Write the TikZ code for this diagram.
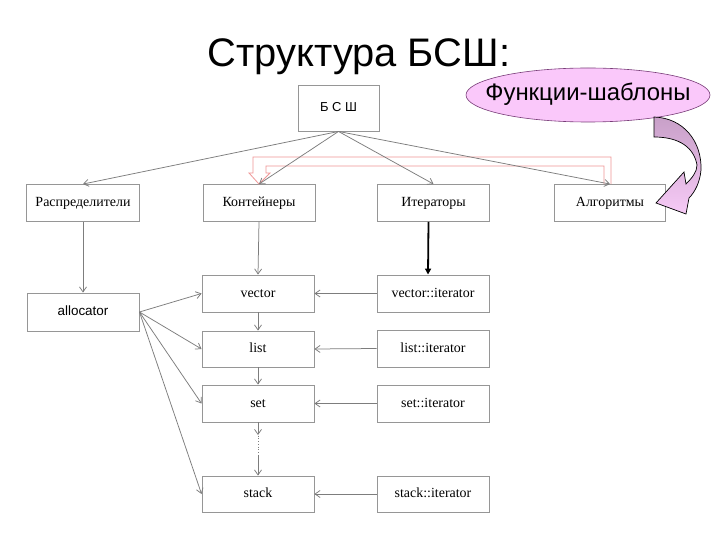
\documentclass[tikz,border=0pt]{standalone}
\usepackage{fontspec}
\setmainfont{Liberation Serif}
\setsansfont{Liberation Sans}
\usetikzlibrary{arrows.meta,shapes.geometric}
\definecolor{boxgray}{RGB}{150,150,150}
\definecolor{linegray}{RGB}{125,125,125}
\definecolor{redline}{RGB}{240,150,150}
\definecolor{ellfill}{RGB}{250,200,250}
\definecolor{elldraw}{RGB}{120,60,120}
\definecolor{mauve}{RGB}{200,160,200}
\definecolor{lpink}{RGB}{246,202,246}
\tikzset{
  x=1bp, y=-1bp,
  stlbox/.style={draw=boxgray, line width=0.9bp, fill=white, minimum width=112bp, minimum height=37bp, inner sep=0pt,
    text height=10bp, text depth=3bp, font=\fontsize{14}{16}\selectfont},
  sansbox/.style={stlbox, font=\sffamily\fontsize{13.5}{16}\selectfont},
  garr/.style={draw=linegray, line width=0.75bp, -{Straight Barb[length=5bp,width=7bp]}},
  gline/.style={draw=linegray, line width=0.75bp},
  barr/.style={draw=black, line width=1.8bp, -{Triangle[length=6bp,width=6bp]}},
}
\begin{document}
\begin{tikzpicture}
\useasboundingbox (0,0) rectangle (720,540);
\fill[white] (0,0) rectangle (720,540);

% title
\node[anchor=base, font=\sffamily\fontsize{40}{44}\selectfont, inner sep=0pt] (title) at (359,67) {Структура БСШ:};

% ellipse
\node[ellipse, draw=elldraw, line width=0.6bp, fill=ellfill, minimum width=244bp, minimum height=54bp,
  inner xsep=-18bp, inner ysep=0pt, text height=16bp, text depth=4bp,
  font=\sffamily\fontsize{24}{26}\selectfont] (fs) at (588,95) {Функции-шаблоны};

% boxes
\node[stlbox, font=\sffamily\fontsize{13}{15}\selectfont, text height=9.5bp, text depth=2.5bp, minimum width=81bp, minimum height=46bp] (bsh) at (338.5,108) {Б С Ш};
\node[stlbox, minimum width=113bp] (rasp) at (83,203) {Распределители};
\node[stlbox] (cont) at (259,203) {Контейнеры};
\node[stlbox] (iter) at (433.5,203) {Итераторы};
\node[stlbox, minimum width=111bp] (alg) at (610,203) {Алгоритмы};

\node[sansbox, minimum height=38bp] (alloc) at (83,312) {allocator};

\node[stlbox] (vec) at (258,293.5) {vector};
\node[stlbox, minimum height=36bp] (lst) at (258,349) {list};
\node[stlbox] (st) at (258,403.5) {set};
\node[stlbox, minimum height=36bp] (stk) at (258,494) {stack};

\node[stlbox] (vit) at (433,293.5) {vector::iterator};
\node[stlbox] (lit) at (433,348.5) {list::iterator};
\node[stlbox] (sit) at (433,403.5) {set::iterator};
\node[stlbox, minimum height=36bp] (stit) at (433,494) {stack::iterator};

% pink bent block arrow outline (Алгоритмы -> Контейнеры)
\draw[redline, line width=0.8bp, line join=miter]
  ([xshift=1bp]alg.north) -- (611,157) -- (253,157) -- (253,173) -- (249,173)
  -- (cont.north) -- (270,173) -- (266,173) -- (266,166) -- (604,166) -- ([xshift=-6bp]alg.north);

% БСШ edges
\draw[garr] (bsh.south) -- (rasp.north);
\draw[garr] (bsh.south) -- (cont.north);
\draw[garr] (bsh.south) -- (iter.north);
\draw[garr] (bsh.south) -- (alg.north);

\draw[garr] (rasp.south) -- (alloc.north);
\draw[garr] (cont.south) -- (vec.north);
\draw[garr] (vec.south) -- (lst.north);
\draw[garr] (lst.south) -- (st.north);
\coordinate (d1) at (258,435);
\coordinate (d2) at (258,455);
\draw[garr] (st.south) -- (d1);
\draw[gline, dotted] ([yshift=2bp]d1) -- ([yshift=-1bp]d2);
\draw[garr] (d2) -- (stk.north);

\draw[garr] (alloc.east) -- (vec.west);
\draw[garr] (alloc.east) -- (lst.west);
\draw[garr] (alloc.east) -- (st.west);
\draw[garr] (alloc.east) -- (stk.west);

\draw[garr] (vit.west) -- (vec.east);
\draw[garr] (lit.west) -- (lst.east);
\draw[garr] (sit.west) -- (st.east);
\draw[garr] (stit.west) -- (stk.east);

\draw[barr] ([xshift=-5bp]iter.south) -- ([xshift=-5bp]vit.north);

% curved block arrow from ellipse to Алгоритмы
\path[draw=black, line width=0.7bp, top color=mauve, bottom color=lpink]
  (654,117) .. controls (684,118) and (702,142) .. (701,170)
  .. controls (700,182) and (695,192) .. (689,198)
  -- (686,214) -- (656,203) -- (684,172) -- (686,184)
  .. controls (692,178) and (697,172) .. (697,165)
  .. controls (694,148) and (680,137) .. (654,137) -- cycle;
\end{tikzpicture}
\end{document}
